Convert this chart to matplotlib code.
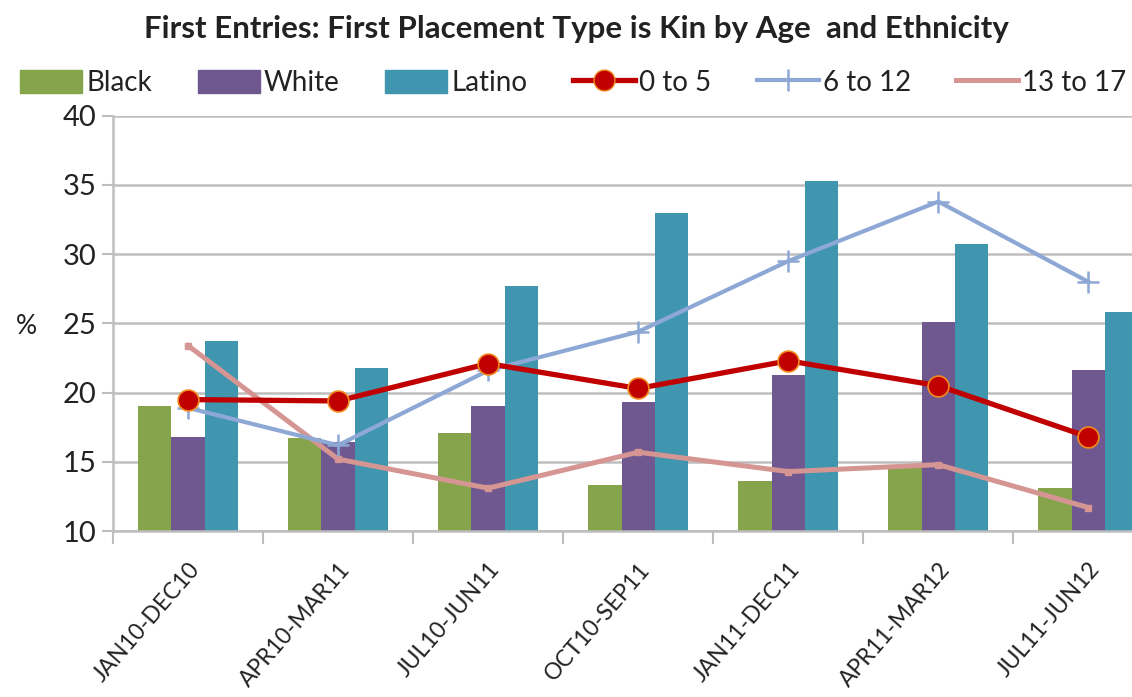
import matplotlib
matplotlib.use('Agg')
import matplotlib.pyplot as plt
import numpy as np
from matplotlib.patches import Patch
from matplotlib.lines import Line2D

plt.rcParams['font.family'] = ['Lato', 'DejaVu Sans']

periods = ['JAN10-DEC10', 'APR10-MAR11', 'JUL10-JUN11', 'OCT10-SEP11',
           'JAN11-DEC11', 'APR11-MAR12', 'JUL11-JUN12']
black = [19.0, 16.7, 17.1, 13.3, 13.6, 14.6, 13.1]
white = [16.8, 16.4, 19.0, 19.3, 21.3, 25.1, 21.6]
latino = [23.7, 21.8, 27.7, 33.0, 35.3, 30.7, 25.8]
age_0_5 = [19.5, 19.4, 22.1, 20.3, 22.3, 20.5, 16.8]
age_6_12 = [18.9, 16.2, 21.6, 24.4, 29.5, 33.8, 28.0]
age_13_17 = [23.4, 15.2, 13.1, 15.7, 14.3, 14.8, 11.7]

c_black = '#86A44B'
c_white = '#6F5890'
c_latino = '#3F96AE'
c_red = '#C00000'
c_blue = '#8EA8D6'
c_pink = '#D59592'

fig = plt.figure(figsize=(11.32, 6.97), dpi=100)
ax = fig.add_axes([0.0998, 0.238, 0.928, 0.596])

x = np.arange(len(periods))
w = 0.222
ax.bar(x - w, black, w, color=c_black, zorder=2)
ax.bar(x, white, w, color=c_white, zorder=2)
ax.bar(x + w, latino, w, color=c_latino, zorder=2)

ax.plot(x, age_13_17, color=c_pink, lw=3.6, zorder=3,
        marker='s', ms=5, mfc=c_pink, mec=c_pink)
ax.plot(x, age_6_12, color=c_blue, lw=3, zorder=4,
        marker='+', ms=16, mew=1.8, mec=c_blue)
ax.plot(x, age_0_5, color=c_red, lw=3.8, zorder=5,
        marker='o', ms=15, mfc=c_red, mec='#F08A1E', mew=1.2)

ax.set_ylim(10, 40)
ax.set_xlim(-0.5, len(periods) - 0.5)
ax.set_yticks(range(10, 41, 5))
ax.yaxis.grid(True, color='#BEBEBE', lw=1.8, zorder=0)
ax.set_axisbelow(True)

for s in ['top', 'right']:
    ax.spines[s].set_visible(False)
ax.spines['left'].set_color('#BEBEBE')
ax.spines['left'].set_linewidth(1.8)
ax.spines['bottom'].set_color('#BEBEBE')
ax.spines['bottom'].set_linewidth(1.8)

ax.tick_params(axis='y', labelsize=21, length=8, width=1.5, color='#BEBEBE',
               labelcolor='#222222', pad=4)
ax.set_xticks(np.arange(len(periods) + 1) - 0.5, minor=False)
ax.set_xticklabels([])
ax.tick_params(axis='x', which='major', length=9, width=1.5, color='#BEBEBE')
ax.set_xticks(x, minor=True)
ax.set_xticklabels(periods, minor=True, rotation=49, ha='right',
                   rotation_mode='anchor', fontsize=16.5, color='#222222')
ax.tick_params(axis='x', which='minor', length=0, pad=20)

fig.text(0.014, 0.531, '%', fontsize=19, color='#222222', va='center')

fig.suptitle('First Entries: First Placement Type is Kin by Age  and Ethnicity',
             x=0.509, y=0.978, fontsize=22.5, fontweight='bold', color='#222222')

handles = [
    Patch(color=c_black, label='Black'),
    Patch(color=c_white, label='White'),
    Patch(color=c_latino, label='Latino'),
    Line2D([], [], color=c_red, lw=3.8, marker='o', ms=15, mfc=c_red,
           mec='#F08A1E', label='0 to 5'),
    Line2D([], [], color=c_blue, lw=3, marker='+', ms=16, mew=1.8,
           label='6 to 12'),
    Line2D([], [], color=c_pink, lw=3.6, label='13 to 17'),
]
fig.legend(handles=handles, loc='center left', bbox_to_anchor=(0.008, 0.881),
           ncol=6, frameon=False, fontsize=20, handlelength=2.23,
           handleheight=0.9, handletextpad=0.15, columnspacing=1.64,
           labelcolor='#222222', borderaxespad=0)

fig.savefig('out.png', dpi=100, facecolor='white')
